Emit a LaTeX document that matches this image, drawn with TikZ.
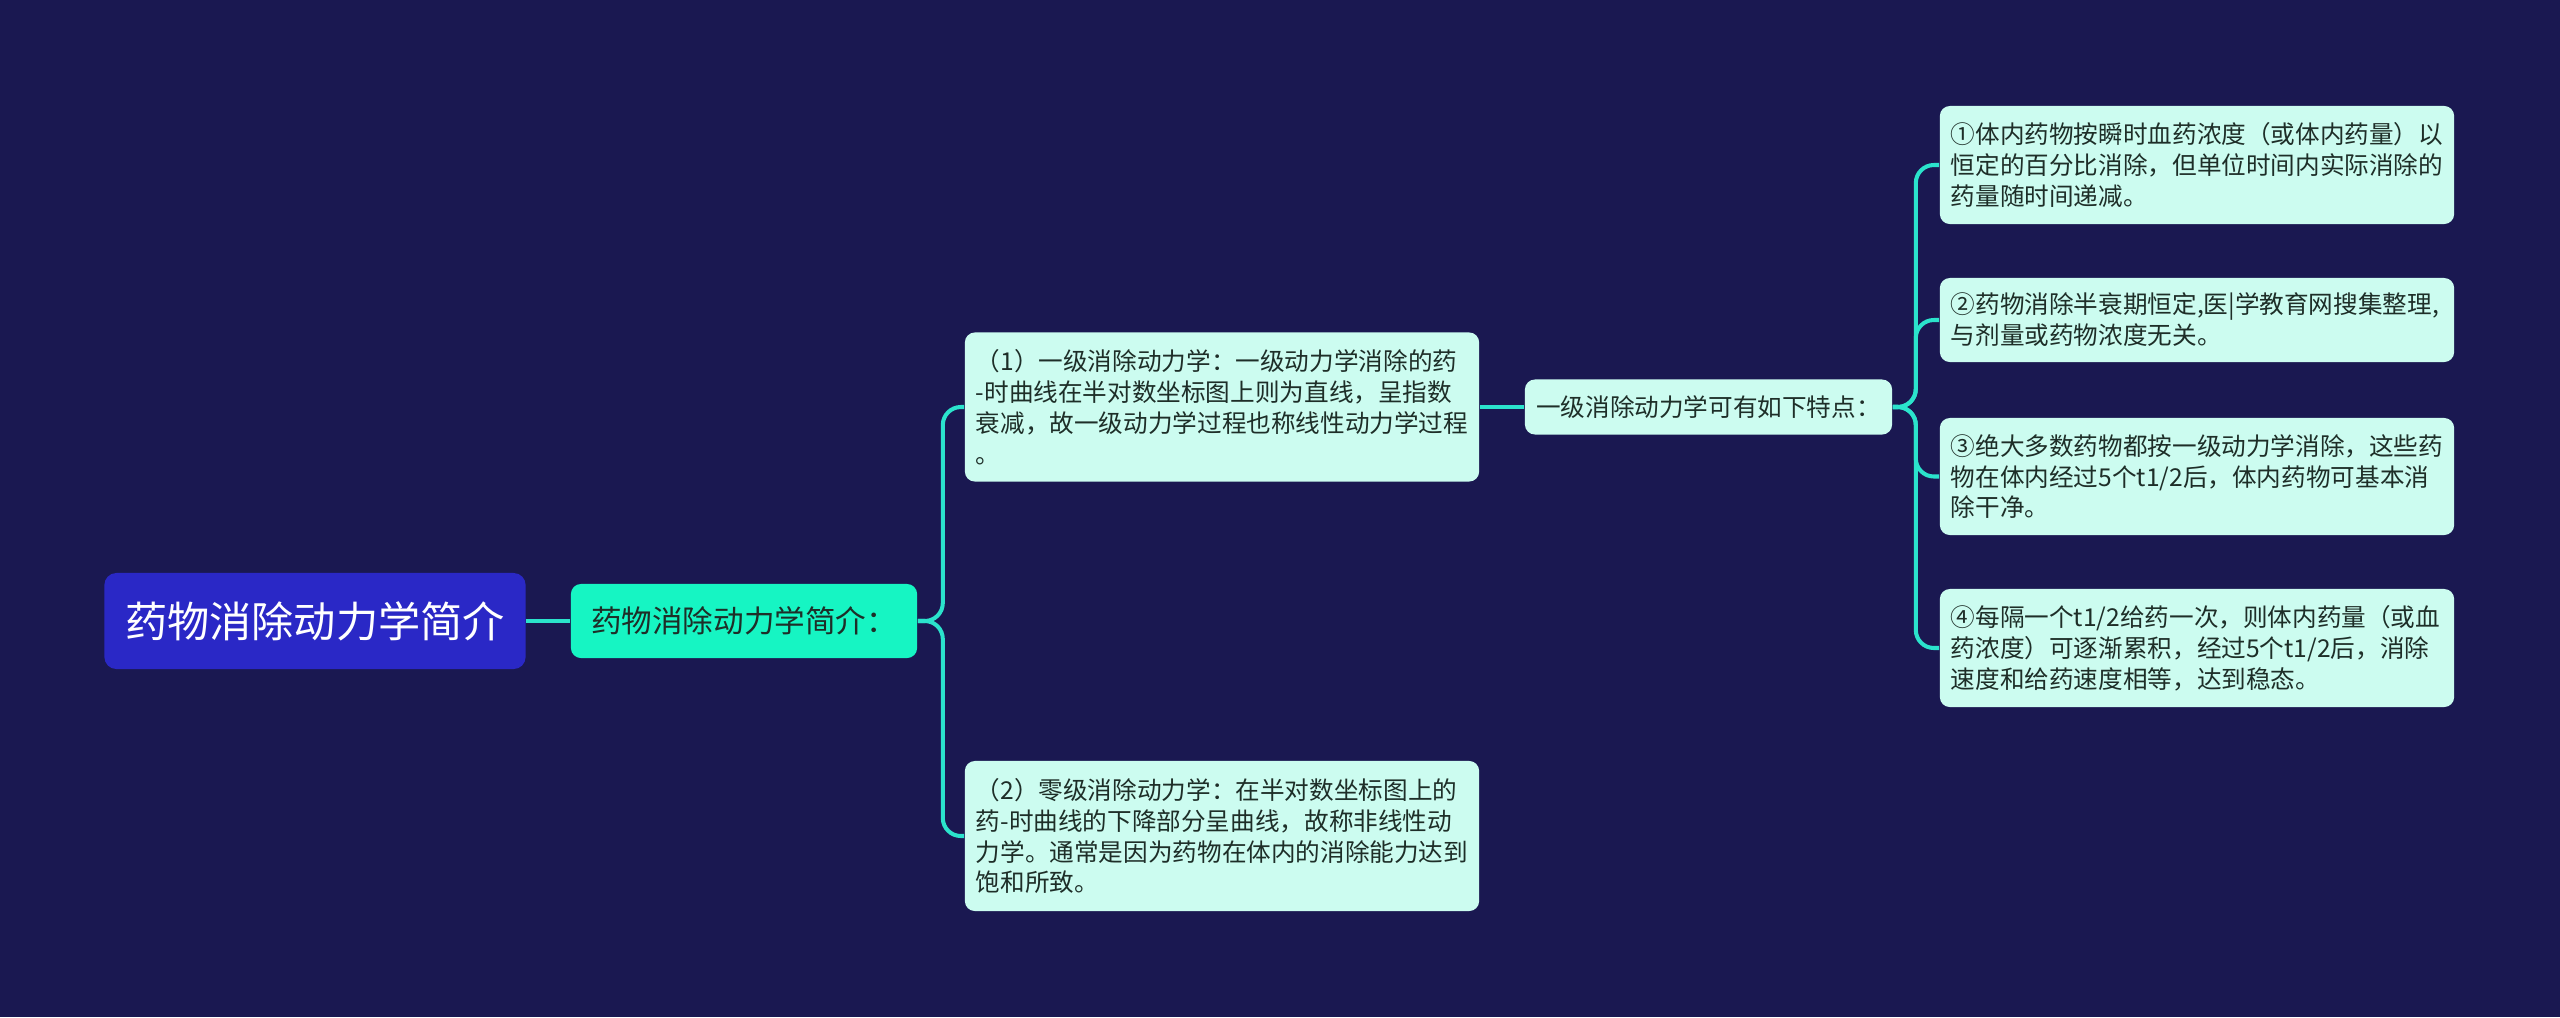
\documentclass[tikz,border=0pt]{standalone}
\usepackage{fontspec}
\setmainfont{Noto Sans CJK SC}
\usepackage{xcolor}
\usepackage{tikz}
\usetikzlibrary{calc}
\definecolor{bgnavy}{HTML}{1A1851}
\definecolor{rootblue}{HTML}{2A28C6}
\definecolor{mint}{HTML}{16F5C3}
\definecolor{palemint}{HTML}{CCFCF0}
\definecolor{linkteal}{HTML}{2BE3CC}
\definecolor{inktext}{HTML}{1E2E28}
\tikzstyle{rootbox}=[rectangle, rounded corners=1.2mm, fill=rootblue, text=white,% the title on the left
font=\fontsize{12}{14}\selectfont, minimum width=4.21cm, minimum height=0.96cm, inner sep=0pt]
\tikzstyle{subbox}=[rectangle, rounded corners=1mm, fill=mint, text=inktext,
font=\fontsize{8.7}{10}\selectfont, minimum width=3.46cm, minimum height=0.74cm, inner sep=0pt]
\tikzstyle{leaf}=[rectangle, rounded corners=1mm, fill=palemint, text=inktext,% the pale text boxes
font=\fontsize{7}{8.8}\selectfont, align=left, text width=4.92cm, inner xsep=0.11cm, inner ysep=0pt]
\tikzstyle{tagbox}=[rectangle, rounded corners=1mm, fill=palemint, text=inktext,
font=\fontsize{7}{8.8}\selectfont, minimum width=3.67cm, minimum height=0.55cm, inner sep=0pt]
\tikzstyle{link}=[draw=linkteal, line width=1.15pt, rounded corners=0.18cm]

\begin{document}
\begin{tikzpicture}[x=0.01cm, y=-0.01cm]
\useasboundingbox (0,0) rectangle (2560,1017);
\fill[bgnavy] (0,0) rectangle (2560,1017);
\node[rootbox] (r0) at (315,621) {药物消除动力学简介};
\node[subbox] (s1) at (744,621) {药物消除动力学简介：};
\node[leaf, minimum height=1.49cm] (k1) at (1222,407) {（1）一级消除动力学：一级动力学消除的药\\-时曲线在半对数坐标图上则为直线，呈指数\\衰减，故一级动力学过程也称线性动力学过程\\。};
\node[leaf, minimum height=1.50cm] (k2) at (1222,836) {（2）零级消除动力学：在半对数坐标图上的\\药-时曲线的下降部分呈曲线，故称非线性动\\力学。通常是因为药物在体内的消除能力达到\\饱和所致。};
\node[tagbox] (t1) at (1708.5,407) {一级消除动力学可有如下特点：};
\node[leaf, minimum height=1.18cm] (p1) at (2197,165) {①体内药物按瞬时血药浓度（或体内药量）以\\恒定的百分比消除，但单位时间内实际消除的\\药量随时间递减。};
\node[leaf, minimum height=0.84cm] (p2) at (2197,320) {②药物消除半衰期恒定,医|学教育网搜集整理,\\与剂量或药物浓度无关。};
\node[leaf, minimum height=1.17cm] (p3) at (2197,476.5) {③绝大多数药物都按一级动力学消除，这些药\\物在体内经过5个t1/2后，体内药物可基本消\\除干净。};
\node[leaf, minimum height=1.18cm] (p4) at (2197,648) {④每隔一个t1/2给药一次，则体内药量（或血\\药浓度）可逐渐累积，经过5个t1/2后，消除\\速度和给药速度相等，达到稳态。};
\draw[link] (r0.east) -- (s1.west);
\draw[link] (s1.east) -- ++(25,0) |- (k1.west);
\draw[link] (s1.east) -- ++(25,0) |- (k2.west);
\draw[link] (k1.east) -- (t1.west);
\draw[link] (t1.east) -- ++(23,0) |- (p1.west);
\draw[link] (t1.east) -- ++(23,0) |- (p2.west);
\draw[link] (t1.east) -- ++(23,0) |- (p3.west);
\draw[link] (t1.east) -- ++(23,0) |- (p4.west);
\end{tikzpicture}
\end{document}
